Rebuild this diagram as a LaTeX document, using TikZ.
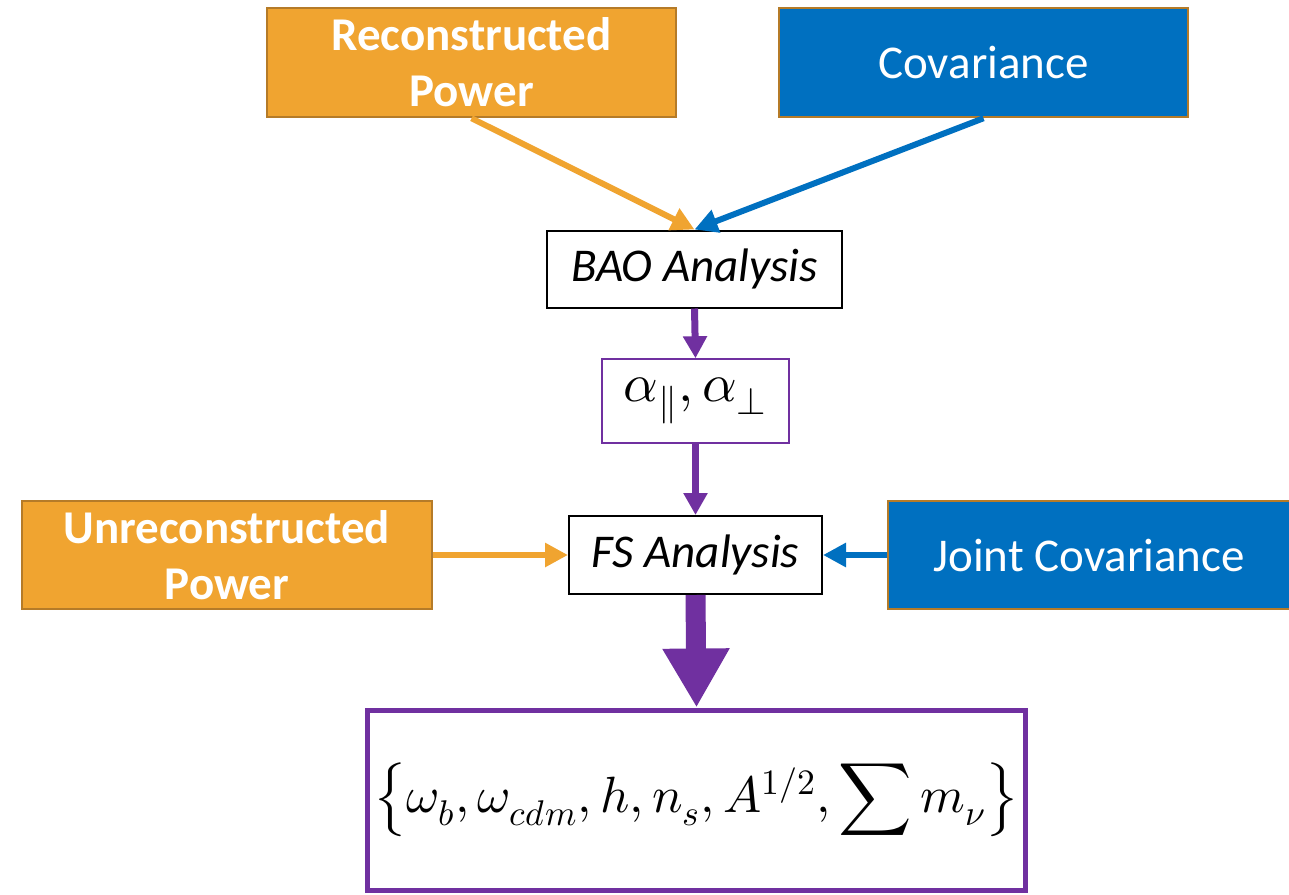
\documentclass[tikz,border=0pt]{standalone}
\usepackage{fontspec}
\usepackage{unicode-math}
\setmainfont{Carlito}
\setmathfont{Latin Modern Math}
\usetikzlibrary{arrows.meta}

\definecolor{gold}{HTML}{F0A430}
\definecolor{goldedge}{HTML}{B57B28}
\definecolor{azure}{HTML}{0070C0}
\definecolor{plum}{HTML}{7030A0}

\begin{document}
\begin{tikzpicture}[x=0.5pt,y=-0.5pt,
  panel/.style 2 args={rectangle, inner sep=0pt, align=center,
    minimum width={#1*0.5pt}, minimum height={#2*0.5pt},
    font=\fontsize{23.5}{28}\selectfont},
  srcgold/.style={fill=gold, draw=goldedge, line width=1.25pt, text=white, font=\fontsize{23.5}{28}\selectfont\bfseries},
  srcblue/.style={fill=azure, draw=goldedge, line width=1.25pt, text=white},
  stage/.style={fill=white, draw=black, line width=1pt, font=\fontsize{23.5}{28}\selectfont\itshape},
  result/.style={fill=white, draw=plum, line width=0.75pt},
  final/.style={fill=white, draw=plum, line width=2.5pt},
  thinflow/.style={line width=3pt, -{Triangle[length=11.5pt,width=11.5pt]}},
  midflow/.style={plum, line width=3.5pt, -{Triangle[length=11pt,width=11.5pt]}},
  bigflow/.style={plum, line width=10pt, -{Triangle[length=29.5pt,width=31.5pt]}}
]
\useasboundingbox (0,0) rectangle (1289,894);

% input boxes
\node[panel={409}{109}, srcgold] (rec) at (471.5,62.5) {Reconstructed\\Power};
\node[panel={409}{109}, srcblue] (cov) at (983.5,62.5) {Covariance};
\node[panel={410}{108}, srcgold] (unrec) at (227,555) {Unreconstructed\\Power};
\node[panel={402}{108}, srcblue] (joint) at (1089,555) {Joint Covariance};

% analysis stages
\node[panel={295}{77}, stage] (bao) at (694.5,269) {BAO Analysis};
\node[panel={187}{84}, result] (alpha) at (695.5,401)
  {\fontsize{27}{30}\selectfont$\alpha_{\parallel},\alpha_{\perp}$};
\node[panel={253}{78}, stage] (fs) at (695.5,555) {FS Analysis};

% final parameter set
\node[panel={658}{180}, final] (par) at (696.5,800)
  {\raisebox{5pt}{\fontsize{25.5}{30}\selectfont$\displaystyle\left\{\omega_b,\omega_{cdm},h,n_s,A^{1/2},\sum m_\nu\right\}$}};

% connectors
\draw[thinflow, gold] (rec.south) -- (bao.north);
\draw[thinflow, azure] (cov.south) -- (bao.north);
\draw[midflow] (bao.south) -- (alpha.north);
\draw[midflow] (alpha.south) -- (fs.north);
\draw[thinflow, gold] (unrec.east) -- (fs.west);
\draw[thinflow, azure] (joint.west) -- (fs.east);
\draw[bigflow] (fs.south) -- (par.north);
\end{tikzpicture}
\end{document}
